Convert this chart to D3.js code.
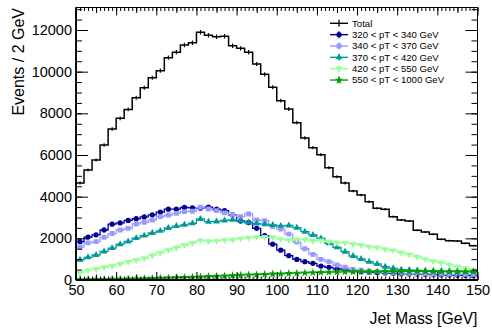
<!DOCTYPE html>
<html><head><meta charset="utf-8">
<script src="https://cdn.jsdelivr.net/npm/d3@7"></script>
<style>
html,body{margin:0;padding:0;background:#fff;}
svg{display:block;font-family:"Liberation Sans",Arial,Helvetica,sans-serif;}
</style></head>
<body><svg id="c" width="492" height="333"></svg>
<script>
const binLow = [50,52,54,56,58,60,62,64,66,68,70,72,74,76,78,80,82,84,86,88,90,92,94,96,98,100,102,104,106,108,110,112,114,116,118,120,122,124,126,128,130,132,134,136,138,140,142,144,146,148];
const binWidth = 2;
const total = [4656,5280,5760,6480,7248,7760,8190,8750,9230,9710,10050,10670,10930,11280,11390,11890,11745,11680,11700,11240,11120,10930,10368,9872,9248,8608,8208,7552,6816,6352,6016,5392,4960,4656,4272,4080,3760,3440,3392,3040,2880,2832,2384,2304,2192,1952,1888,1872,1760,1648];
const pt320_340 = [1840,2060,2170,2400,2680,2740,2860,2940,3030,3130,3260,3400,3400,3480,3460,3450,3500,3400,3330,3120,2830,2760,2480,2130,1720,1430,1170,990,880,800,670,610,530,500,440,400,380,360,340,320,300,290,280,270,260,250,240,230,220,210];
const pt340_370 = [1580,1780,1840,2050,2230,2400,2480,2690,2770,2880,3040,3120,3200,3280,3300,3490,3410,3330,3220,3130,3040,3170,2880,2850,2570,2440,2200,1820,1500,1230,990,880,720,610,510,470,430,400,370,350,330,320,310,300,290,280,270,270,260,260];
const pt370_420 = [970,1090,1200,1370,1530,1720,1850,2010,2130,2260,2360,2500,2590,2650,2720,2930,2800,2810,2860,2890,2840,2760,2710,2680,2640,2600,2620,2510,2320,2160,2000,1760,1570,1360,1150,1010,880,770,640,560,500,480,460,450,440,430,420,410,400,390];
const pt420_550 = [350,470,530,610,680,770,870,960,1040,1190,1310,1440,1560,1680,1780,1900,1860,1880,1920,1930,1990,2030,2070,2060,2050,1960,1920,1950,1940,1880,1900,1840,1790,1780,1730,1680,1600,1560,1480,1420,1320,1230,1120,1000,900,820,730,650,560,480];
const pt550_1000 = [20,25,30,35,40,45,55,60,70,80,90,100,110,125,140,155,170,185,200,215,230,245,260,275,290,300,315,330,345,355,370,380,385,390,395,400,405,405,410,410,410,410,415,410,410,405,405,400,400,400];
const legendLabels = ["Total","320 < pT < 340 GeV","340 < pT < 370 GeV","370 < pT < 420 GeV","420 < pT < 550 GeV","550 < pT < 1000 GeV"];
const xTicks = [50,60,70,80,90,100,110,120,130,140,150];
const yTicks = [0,2000,4000,6000,8000,10000,12000];
const xTitle = "Jet Mass [GeV]";
const yTitle = "Events / 2 GeV";

const colors = ["#000000","#000099","#9999ff","#009999","#99ff99","#00a000"];
const symbols = [null, d3.symbolCircle, d3.symbolSquare, d3.symbolTriangle, d3.symbolTriangle, d3.symbolStar];
const symSizes = [0, 22, 24, 20, 20, 22];
const symRot = [0,0,0,0,180,0];
const seriesVals = [total, pt320_340, pt340_370, pt370_420, pt420_550, pt550_1000];

const svg = d3.select("#c");
const L = 76, R = 477.5, T = 7.5, B = 280;
const x = d3.scaleLinear().domain([50,150]).range([L,R]);
const y = d3.scaleLinear().domain([0,13080]).range([B,T]);

svg.append("defs").append("clipPath").attr("id","pc")
  .append("rect").attr("x",L).attr("y",T).attr("width",R-L).attr("height",B-T);

const font = "\"Liberation Sans\",Arial,Helvetica,sans-serif";

const g = svg.append("g").attr("clip-path","url(#pc)");
seriesVals.forEach((vals,si)=>{
  const pts = vals.map((v,i)=>[binLow[i],v]);
  pts.push([binLow[binLow.length-1]+binWidth, vals[vals.length-1]]);
  const line = d3.line().x(d=>x(d[0])).y(d=>y(d[1])).curve(d3.curveStepAfter);
  g.append("path").attr("d",line(pts)).attr("fill","none")
    .attr("stroke",colors[si]).attr("stroke-width", si===0?1.5:1.3);
  g.selectAll(null).data(vals).enter().append("line")
    .attr("x1",(d,i)=>x(binLow[i]+binWidth/2)).attr("x2",(d,i)=>x(binLow[i]+binWidth/2))
    .attr("y1",d=>y(d+Math.sqrt(d))).attr("y2",d=>y(d-Math.sqrt(d)))
    .attr("stroke",colors[si]).attr("stroke-width",1.2);
  if(symbols[si]){
    const sym = d3.symbol().type(symbols[si]).size(symSizes[si]);
    g.selectAll(null).data(vals).enter().append("path")
      .attr("d",sym())
      .attr("transform",(d,i)=>`translate(${x(binLow[i]+binWidth/2)},${y(d)}) rotate(${symRot[si]})`)
      .attr("fill",colors[si]);
  }
});

function styleAxis(sel){
  sel.select(".domain").remove();
  sel.selectAll("line").attr("stroke","#000").attr("stroke-width",1);
  sel.selectAll("text").attr("font-family",font).attr("font-size","14.5px").attr("fill","#000");
}
const xMinor = d3.range(50,151,1), xMid = d3.range(55,151,10);
const yMinor = d3.range(0,13001,500);
svg.append("g").attr("transform",`translate(0,${B})`)
  .call(d3.axisBottom(x).tickValues(xMinor).tickSize(-3.5).tickFormat("")).call(styleAxis);
svg.append("g").attr("transform",`translate(0,${B})`)
  .call(d3.axisBottom(x).tickValues(xMid).tickSize(-5.5).tickFormat("")).call(styleAxis);
svg.append("g").attr("transform",`translate(0,${B})`)
  .call(d3.axisBottom(x).tickValues(xTicks).tickSize(-8).tickPadding(4.5).tickFormat(d3.format("d"))).call(styleAxis);
svg.append("g").attr("transform",`translate(0,${T})`)
  .call(d3.axisTop(x).tickValues(xMinor).tickSize(-3.5).tickFormat("")).call(styleAxis);
svg.append("g").attr("transform",`translate(0,${T})`)
  .call(d3.axisTop(x).tickValues(xMid).tickSize(-5.5).tickFormat("")).call(styleAxis);
svg.append("g").attr("transform",`translate(0,${T})`)
  .call(d3.axisTop(x).tickValues(xTicks).tickSize(-8).tickFormat("")).call(styleAxis);
svg.append("g").attr("transform",`translate(${L},0)`)
  .call(d3.axisLeft(y).tickValues(yMinor).tickSize(-6).tickFormat("")).call(styleAxis);
svg.append("g").attr("transform",`translate(${L},0)`)
  .call(d3.axisLeft(y).tickValues(yTicks).tickSize(-12).tickPadding(4).tickFormat(d3.format("d"))).call(styleAxis);
svg.append("g").attr("transform",`translate(${R},0)`)
  .call(d3.axisRight(y).tickValues(yMinor).tickSize(-6).tickFormat("")).call(styleAxis);
svg.append("g").attr("transform",`translate(${R},0)`)
  .call(d3.axisRight(y).tickValues(yTicks).tickSize(-12).tickFormat("")).call(styleAxis);

svg.append("rect").attr("x",L).attr("y",T).attr("width",R-L).attr("height",B-T)
  .attr("fill","none").attr("stroke","#000").attr("stroke-width",1);
svg.append("line").attr("x1",L).attr("x2",L).attr("y1",T).attr("y2",B).attr("stroke","#000").attr("stroke-width",1.8);
svg.append("line").attr("x1",L).attr("x2",R).attr("y1",B).attr("y2",B).attr("stroke","#000").attr("stroke-width",1.8);

svg.append("text").attr("x",R).attr("y",324).attr("text-anchor","end")
  .attr("font-family",font).attr("font-size","15.8px").text(xTitle);
svg.append("text").attr("transform","translate(24,8) rotate(-90)").attr("text-anchor","end")
  .attr("font-family",font).attr("font-size","16px").text(yTitle);

const lg = svg.append("g");
legendLabels.forEach((lab,i)=>{
  const yy = 23.3 + i*11.35;
  lg.append("line").attr("x1",330).attr("x2",348).attr("y1",yy).attr("y2",yy)
    .attr("stroke",colors[i]).attr("stroke-width",1.4);
  lg.append("line").attr("x1",339).attr("x2",339).attr("y1",yy-3.5).attr("y2",yy+3.5)
    .attr("stroke",colors[i]).attr("stroke-width",1.3);
  if(symbols[i]){
    lg.append("path").attr("d",d3.symbol().type(symbols[i]).size(symSizes[i])())
      .attr("transform",`translate(339,${yy}) rotate(${symRot[i]})`).attr("fill",colors[i]);
  }
  lg.append("text").attr("x",352).attr("y",yy).attr("dy","0.35em")
    .attr("font-family",font).attr("font-size","9.6px").text(lab);
});
</script></body></html>
